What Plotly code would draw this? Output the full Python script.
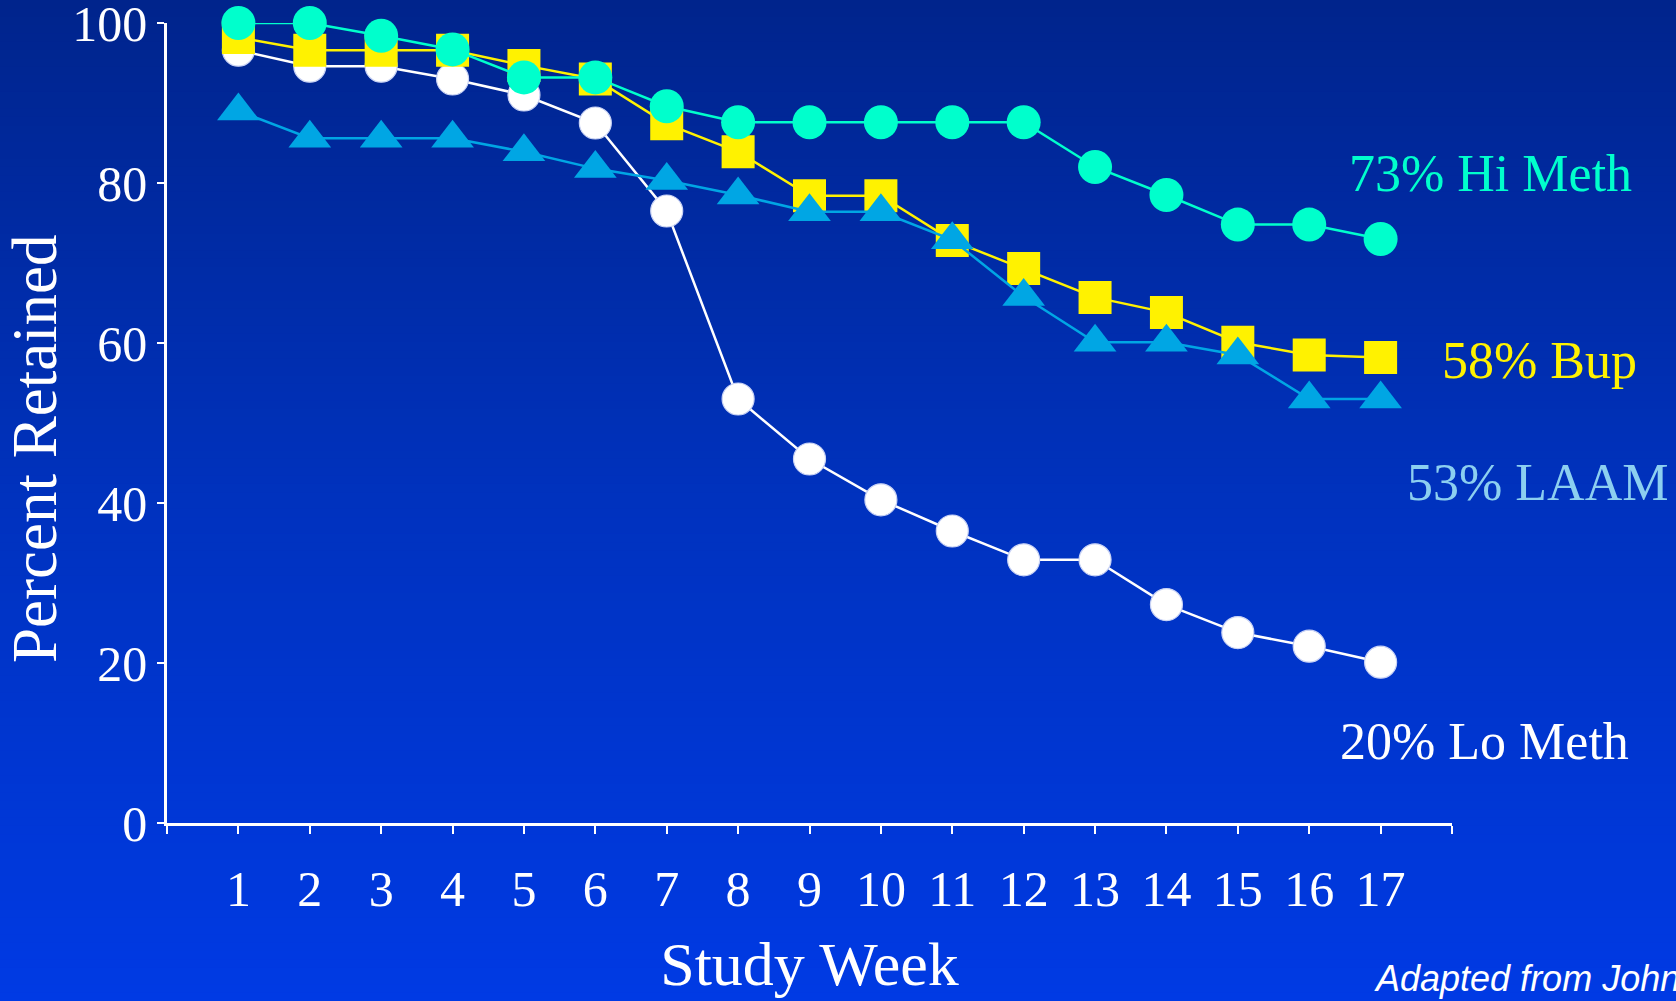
import plotly.graph_objects as go

# Study weeks and percent of patients retained per treatment arm
weeks = list(range(1, 18))
hi_meth = [100, 100, 98.4, 96.7, 93.2, 93.2, 89.6, 87.6, 87.6, 87.6, 87.6, 87.6, 82.0, 78.5, 74.8, 74.8, 73.0]
bup = [98.2, 96.6, 96.6, 96.6, 94.7, 93.0, 87.4, 83.9, 78.4, 78.4, 72.8, 69.3, 65.7, 63.8, 60.1, 58.5, 58.2]
laam = [89.0, 85.6, 85.6, 85.6, 83.9, 81.8, 80.3, 78.5, 76.4, 76.4, 72.9, 65.8, 60.1, 60.1, 58.5, 53.0, 53.0]
lo_meth = [96.6, 94.6, 94.6, 93.0, 91.0, 87.5, 76.5, 53.0, 45.5, 40.4, 36.5, 32.9, 32.9, 27.3, 23.8, 22.1, 20.1]

y_ticks = [0, 20, 40, 60, 80, 100]
x_tick_vals = list(range(0, 19))
x_tick_text = [""] + [str(w) for w in weeks] + [""]

end_labels = ["73% Hi Meth", "58% Bup", "53% LAAM", "20% Lo Meth"]

SERIF = "Liberation Serif, Times New Roman, serif"
C_HI = "#00FFCC"
C_BUP = "#FFF200"
C_LAAM = "#00A6E4"
C_LAAM_TXT = "#8CCFF0"
C_LO = "#FFFFFF"

fig = go.Figure()

# Lo Meth (white circles) sits underneath the others
fig.add_trace(go.Scatter(
    x=weeks, y=lo_meth, mode="lines+markers", name="Lo Meth",
    line=dict(color=C_LO, width=2.5),
    marker=dict(symbol="circle", size=32, color=C_LO, line=dict(color="#C9D3F5", width=1.2)),
    cliponaxis=False,
))
fig.add_trace(go.Scatter(
    x=weeks, y=bup, mode="lines+markers", name="Bup",
    line=dict(color=C_BUP, width=2.5),
    marker=dict(symbol="square", size=33, color=C_BUP),
    cliponaxis=False,
))
fig.add_trace(go.Scatter(
    x=weeks, y=laam, mode="lines+markers", name="LAAM",
    line=dict(color=C_LAAM, width=2.5),
    marker=dict(symbol="triangle-up", size=37, color=C_LAAM),
    cliponaxis=False,
))
fig.add_trace(go.Scatter(
    x=weeks, y=hi_meth, mode="lines+markers", name="Hi Meth",
    line=dict(color=C_HI, width=2.5),
    marker=dict(symbol="circle", size=34, color=C_HI),
    cliponaxis=False,
))

# Canvas geometry (pixels)
W, H = 1676, 1001
ML, MR, MT, MB = 167, 224, 23, 178
pw, ph = W - ML - MR, H - MT - MB


def px_x(px):
    """Horizontal canvas pixel -> paper coordinate."""
    return (px - ML) / pw


def px_y(py):
    """Vertical canvas pixel (from top) -> paper coordinate."""
    return (H - MB - py) / ph


# Vertical blue gradient behind the whole canvas, built from thin bands
stops = [(0.0, (0, 36, 140)), (0.5, (0, 50, 190)), (1.0, (0, 58, 228))]


def grad(t):
    for (t0, c0), (t1, c1) in zip(stops[:-1], stops[1:]):
        if t <= t1:
            f = (t - t0) / (t1 - t0)
            return tuple(round(a + (b - a) * f) for a, b in zip(c0, c1))
    return stops[-1][1]


shapes = []
n_bands = 120
for i in range(n_bands):
    py0 = H * i / n_bands
    py1 = H * (i + 1) / n_bands + 1
    r, g, b = grad((i + 0.5) / n_bands)
    shapes.append(dict(
        type="rect", xref="paper", yref="paper", layer="below",
        x0=px_x(-5), x1=px_x(W + 5), y0=px_y(py1), y1=px_y(py0 - (6 if i == 0 else 0)),
        fillcolor=f"rgb({r},{g},{b})", line=dict(width=0),
    ))

# End-of-study labels beside each curve
label_specs = [
    (1491, 173, C_HI),
    (1539, 360, C_BUP),
    (1537, 483, C_LAAM_TXT),
    (1484, 741, C_LO),
]
annotations = []
for text, (cx, cy, col) in zip(end_labels, label_specs):
    annotations.append(dict(
        xref="paper", yref="paper", x=px_x(cx), y=px_y(cy),
        xanchor="center", yanchor="middle", showarrow=False, text=text,
        font=dict(color=col, size=52, family=SERIF),
    ))

# Rotated y-axis title
annotations.append(dict(
    xref="paper", yref="paper", x=px_x(35), y=px_y(449),
    xanchor="center", yanchor="middle", showarrow=False, textangle=-90,
    text="Percent Retained", font=dict(color="white", size=63, family=SERIF),
))

# Source note in the lower right corner
annotations.append(dict(
    xref="paper", yref="paper", x=px_x(1372), y=px_y(1001),
    xanchor="left", yanchor="bottom", showarrow=False,
    text="<i>Adapted from Johnson et al., 2000</i>",
    font=dict(color="white", size=36, family="Liberation Sans, Arial, sans-serif"),
))

fig.update_layout(
    width=W, height=H,
    margin=dict(l=ML, r=MR, t=MT, b=MB, autoexpand=False),
    paper_bgcolor="rgb(0,36,140)",
    plot_bgcolor="rgba(0,0,0,0)",
    showlegend=False,
    shapes=shapes,
    annotations=annotations,
    font=dict(family=SERIF, color="white"),
    xaxis=dict(
        range=[0, 18], tickvals=x_tick_vals, ticktext=x_tick_text,
        automargin=False,
        showgrid=False, zeroline=False,
        showline=True, linecolor="white", linewidth=2.5,
        ticks="outside", ticklen=8, tickwidth=2, tickcolor="white",
        ticklabelstandoff=12,
        tickfont=dict(size=50, family=SERIF, color="white"),
        title=dict(text="Study Week", font=dict(size=62, family=SERIF, color="white"), standoff=26),
    ),
    yaxis=dict(
        range=[0, 100], tickvals=y_ticks,
        automargin=False,
        showgrid=False, zeroline=False,
        showline=True, linecolor="white", linewidth=2.5,
        ticks="outside", ticklen=7, tickwidth=2, tickcolor="white",
        ticklabeloverflow="allow",
        tickfont=dict(size=50, family=SERIF, color="white"),
    ),
)

fig.write_html("out.html")
